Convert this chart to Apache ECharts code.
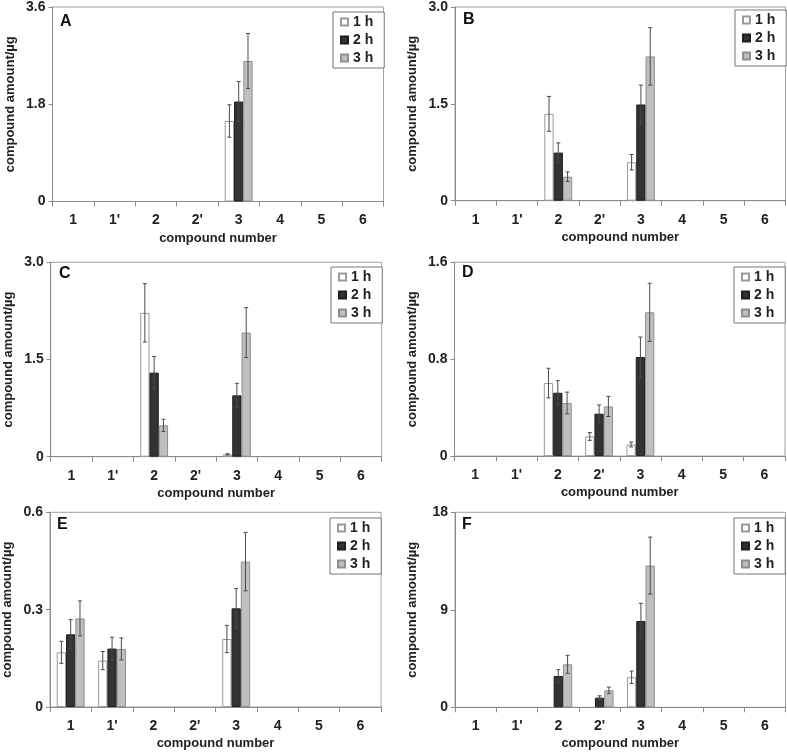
<!DOCTYPE html>
<html><head><meta charset="utf-8">
<script src="https://cdn.jsdelivr.net/npm/echarts@6/dist/echarts.min.js"></script>
<style>html,body{margin:0;padding:0;background:#fff}#c{width:787px;height:752px}</style>
</head><body><div id="c"></div>
<script>
// ---- data ----
const categories = ['1', "1'", '2', "2'", '3', '4', '5', '6'];
const seriesNames = ['1 h', '2 h', '3 h'];
const panelLabels = ['A', 'B', 'C', 'D', 'E', 'F'];
const yMax = [3.6, 3.0, 3.0, 1.6, 0.6, 18];
const yInterval = [1.8, 1.5, 1.5, 0.8, 0.3, 9];
const yDecimals = [1, 1, 1, 1, 1, 0];

// Panel A
const A_1h = [null, null, null, null, 1.49, null, null, null];
const A_2h = [null, null, null, null, 1.85, null, null, null];
const A_3h = [null, null, null, null, 2.60, null, null, null];
const A_1h_err = [0, 0, 0, 0, 0.30, 0, 0, 0];
const A_2h_err = [0, 0, 0, 0, 0.37, 0, 0, 0];
const A_3h_err = [0, 0, 0, 0, 0.51, 0, 0, 0];
// Panel B
const B_1h = [null, null, 1.345, null, 0.595, null, null, null];
const B_2h = [null, null, 0.745, null, 1.49, null, null, null];
const B_3h = [null, null, 0.372, null, 2.235, null, null, null];
const B_1h_err = [0, 0, 0.27, 0, 0.12, 0, 0, 0];
const B_2h_err = [0, 0, 0.15, 0, 0.30, 0, 0, 0];
const B_3h_err = [0, 0, 0.075, 0, 0.445, 0, 0, 0];
// Panel C
const C_1h = [null, null, 2.22, null, 0.036, null, null, null];
const C_2h = [null, null, 1.297, null, 0.947, null, null, null];
const C_3h = [null, null, 0.484, null, 1.915, null, null, null];
const C_1h_err = [0, 0, 0.45, 0, 0.01, 0, 0, 0];
const C_2h_err = [0, 0, 0.25, 0, 0.185, 0, 0, 0];
const C_3h_err = [0, 0, 0.095, 0, 0.385, 0, 0, 0];
// Panel D
const D_1h = [null, null, 0.603, 0.162, 0.096, null, null, null];
const D_2h = [null, null, 0.523, 0.35, 0.818, null, null, null];
const D_3h = [null, null, 0.438, 0.41, 1.187, null, null, null];
const D_1h_err = [0, 0, 0.122, 0.032, 0.02, 0, 0, 0];
const D_2h_err = [0, 0, 0.10, 0.072, 0.165, 0, 0, 0];
const D_3h_err = [0, 0, 0.09, 0.083, 0.24, 0, 0, 0];
// Panel E
const E_1h = [0.1685, 0.143, null, null, 0.2096, null, null, null];
const E_2h = [0.224, 0.18, null, null, 0.304, null, null, null];
const E_3h = [0.273, 0.179, null, null, 0.448, null, null, null];
const E_1h_err = [0.034, 0.028, 0, 0, 0.042, 0, 0, 0];
const E_2h_err = [0.045, 0.035, 0, 0, 0.061, 0, 0, 0];
const E_3h_err = [0.054, 0.034, 0, 0, 0.09, 0, 0, 0];
// Panel F
const F_1h = [null, null, null, null, 2.77, null, null, null];
const F_2h = [null, null, 2.89, 0.89, 7.97, null, null, null];
const F_3h = [null, null, 3.97, 1.57, 13.08, null, null, null];
const F_1h_err = [0, 0, 0, 0, 0.57, 0, 0, 0];
const F_2h_err = [0, 0, 0.58, 0.17, 1.63, 0, 0, 0];
const F_3h_err = [0, 0, 0.83, 0.29, 2.63, 0, 0, 0];

const panelValues = [
  [A_1h, A_2h, A_3h], [B_1h, B_2h, B_3h], [C_1h, C_2h, C_3h],
  [D_1h, D_2h, D_3h], [E_1h, E_2h, E_3h], [F_1h, F_2h, F_3h]
];
const panelErrors = [
  [A_1h_err, A_2h_err, A_3h_err], [B_1h_err, B_2h_err, B_3h_err], [C_1h_err, C_2h_err, C_3h_err],
  [D_1h_err, D_2h_err, D_3h_err], [E_1h_err, E_2h_err, E_3h_err], [F_1h_err, F_2h_err, F_3h_err]
];

// ---- layout / style ----
const FONT = '"Liberation Sans", Arial, sans-serif';
const BAR_W = 9.3;
const grids = [
  {left: 52.5, top: 7, width: 331, height: 194.5},
  {left: 455, top: 7, width: 330.5, height: 193.7},
  {left: 50.7, top: 262.3, width: 331, height: 194.4},
  {left: 454.5, top: 262.3, width: 330.5, height: 193.8},
  {left: 50, top: 512.3, width: 331, height: 194.7},
  {left: 455, top: 512.3, width: 330.5, height: 195}
];
const legendPos = [
  {left: 333, top: 12}, {left: 735, top: 10}, {left: 331, top: 267},
  {left: 734, top: 267}, {left: 330, top: 518}, {left: 734, top: 518}
];
const labelPos = [
  {left: 60, top: 14}, {left: 463, top: 12}, {left: 59, top: 266},
  {left: 462, top: 265}, {left: 57, top: 517}, {left: 462, top: 517}
];
const barStyles = [
  {color: '#ffffff', borderColor: '#9a9a9a', borderWidth: 1},
  {color: '#333333', borderColor: '#1f1f1f', borderWidth: 1},
  {color: '#bfbfbf', borderColor: '#8f8f8f', borderWidth: 1}
];

const option = {
  animation: false,
  backgroundColor: '#fff',
  grid: [], xAxis: [], yAxis: [], series: [], legend: [], title: []
};

for (let p = 0; p < 6; p++) {
  option.grid.push(Object.assign({show: true, borderColor: '#a0a0a0', borderWidth: 1, backgroundColor: 'transparent'}, grids[p]));
  option.xAxis.push({
    type: 'category', gridIndex: p, data: categories, boundaryGap: true,
    name: 'compound number', nameLocation: 'middle', nameGap: 30,
    nameTextStyle: {fontFamily: FONT, fontWeight: 'bold', fontSize: 13, color: '#222'},
    axisLine: {lineStyle: {color: '#8a8a8a', width: 1}},
    axisTick: {show: true, length: 5, interval: 0, lineStyle: {color: '#8a8a8a'}},
    axisLabel: {interval: 0, margin: 12, fontFamily: FONT, fontWeight: 'bold', fontSize: 14, color: '#222'},
    splitLine: {show: false}
  });
  const dec = yDecimals[p];
  option.yAxis.push({
    type: 'value', gridIndex: p, min: 0, max: yMax[p], interval: yInterval[p],
    name: 'compound amount/\u00b5g', nameLocation: 'middle', nameGap: 36,
    nameTextStyle: {fontFamily: FONT, fontWeight: 'bold', fontSize: 13, color: '#222'},
    axisLine: {show: true, lineStyle: {color: '#8a8a8a', width: 1}},
    axisTick: {show: true, length: 4, lineStyle: {color: '#8a8a8a'}},
    axisLabel: {margin: 7, fontFamily: FONT, fontWeight: 'bold', fontSize: 14, color: '#222',
      formatter: v => v === 0 ? '0' : v.toFixed(dec)},
    splitLine: {show: false}
  });
  const errData = [];
  for (let s = 0; s < 3; s++) {
    const vals = panelValues[p][s];
    option.series.push({
      type: 'bar', name: seriesNames[s], xAxisIndex: p, yAxisIndex: p,
      data: vals.map(v => v === null ? '-' : v),
      barWidth: BAR_W, barGap: '0%', itemStyle: barStyles[s], z: 2
    });
    vals.forEach((v, i) => {
      if (v !== null) errData.push([i, v, panelErrors[p][s][i], s]);
    });
  }
  option.series.push({
    type: 'custom', name: 'err' + p, xAxisIndex: p, yAxisIndex: p, z: 5, clip: false,
    encode: {x: 0, y: 1},
    data: errData,
    renderItem: function (params, api) {
      const xi = api.value(0), v = api.value(1), e = api.value(2), s = api.value(3);
      const hi = api.coord([xi, v + e]);
      const lo = api.coord([xi, v - e]);
      const x = hi[0] + (s - 1) * BAR_W;
      const cap = 2;
      const st = {stroke: '#4a4a4a', lineWidth: 1};
      return {type: 'group', children: [
        {type: 'line', shape: {x1: x, y1: hi[1], x2: x, y2: lo[1]}, style: st},
        {type: 'line', shape: {x1: x - cap, y1: hi[1], x2: x + cap, y2: hi[1]}, style: st},
        {type: 'line', shape: {x1: x - cap, y1: lo[1], x2: x + cap, y2: lo[1]}, style: st}
      ]};
    }
  });
  option.legend.push({
    data: seriesNames, orient: 'vertical', left: legendPos[p].left, top: legendPos[p].top,
    icon: 'rect', itemWidth: 7, itemHeight: 7, itemGap: 4,
    padding: [3, 11, 3, 7], borderColor: '#777', borderWidth: 1, backgroundColor: '#fff',
    selectedMode: false,
    textStyle: {fontFamily: FONT, fontWeight: 'bold', fontSize: 14, color: '#222'}
  });
  option.title.push({
    text: panelLabels[p], left: labelPos[p].left, top: labelPos[p].top, padding: 0,
    textStyle: {fontFamily: FONT, fontWeight: 'bold', fontSize: 16, color: '#111'}
  });
}

const chart = echarts.init(document.getElementById('c'), null, {renderer: 'canvas'});
chart.setOption(option);
</script>
</body></html>
